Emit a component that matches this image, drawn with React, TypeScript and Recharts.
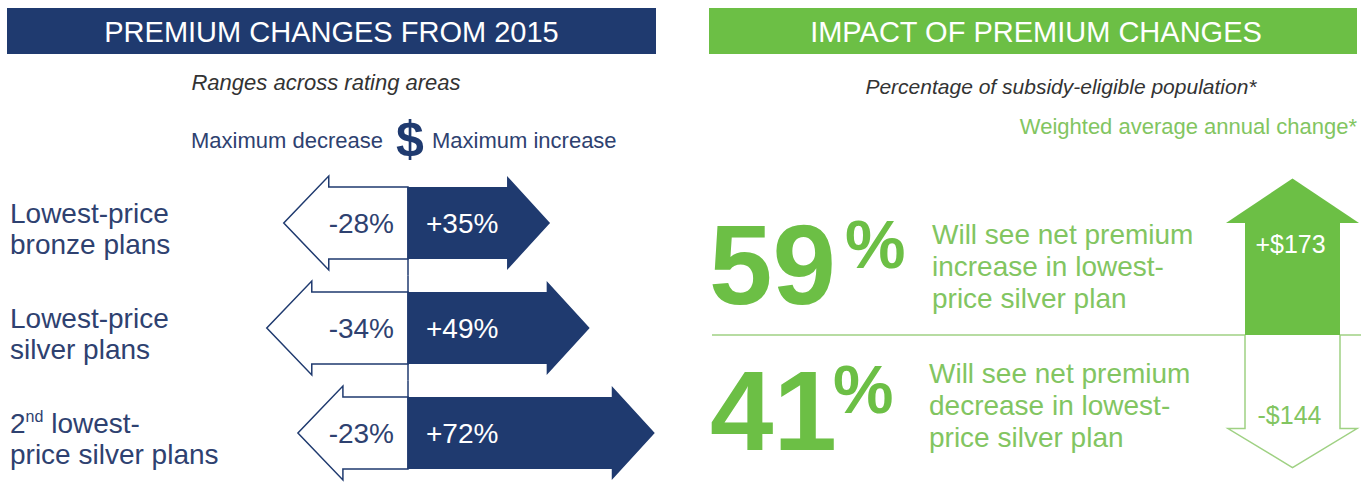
import React from "react";
import { BarChart, Bar, XAxis, YAxis } from "recharts";

// ---------- data ----------
const planNames = ["Lowest-price bronze plans", "Lowest-price silver plans", "2nd lowest-price silver plans"];
const planLines = [
  ["Lowest-price", "bronze plans"],
  ["Lowest-price", "silver plans"],
  ["2nd lowest-", "price silver plans"],
];
const maxDecrease = [-28, -34, -23];
const maxIncrease = [35, 49, 72];

const sharePercent = [59, 41];
const shareLines = [
  ["Will see net premium", "increase in lowest-", "price silver plan"],
  ["Will see net premium", "decrease in lowest-", "price silver plan"],
];
const annualChange = [173, -144];

// ---------- style ----------
const FONT = "'Liberation Sans', Arial, Helvetica, sans-serif";
const NAVY = "#1f3a6f";
const NAVY_TEXT = "#2e4170";
const GREEN = "#6cbf45";
const GREEN_TEXT = "#82c561";
const GREEN_LINE = "#9fd183";

// left chart layout
const L_W = 700;
const L_TOP = 170;
const L_H = 315;
const L_AXIS_W = 250;
const CENTER = 408;
const PX = 2.83;
const ROW_GAP = 33;

// right chart layout
const R_LEFT = 1207.5;
const R_TOP = 100;
const R_W = 168;
const R_H = 383;
const ZERO_Y = 335;
const PXD = 0.65;

const leftData = planNames.map((name, i) => ({ name, dec: maxDecrease[i], inc: maxIncrease[i] }));
const rightData = [{ name: "change", up: annualChange[0], down: annualChange[1] }];

const norm = (p: any) => {
  const left = Math.min(p.x, p.x + p.width);
  const right = Math.max(p.x, p.x + p.width);
  const top = Math.min(p.y, p.y + p.height);
  const bot = Math.max(p.y, p.y + p.height);
  return { left, right, top, bot, cx: (left + right) / 2, cy: (top + bot) / 2 };
};

const IncShape = (p: any) => {
  const { left, right, top, bot, cy } = norm(p);
  const pts = [
    [left, top], [right, top], [right, top - 11], [right + 43, cy],
    [right, bot + 11], [right, bot], [left, bot],
  ].map((q) => q.join(",")).join(" ");
  return (
    <g>
      <polygon points={pts} fill={NAVY} />
      <text x={left + 18} y={cy + 10} fill="#ffffff" fontSize={28} fontFamily={FONT}>
        {"+" + p.payload.inc + "%"}
      </text>
    </g>
  );
};

const DecShape = (p: any) => {
  const { left, right, top, bot, cy } = norm(p);
  const pts = [
    [right, top], [left, top], [left, top - 11], [left - 45, cy],
    [left, bot + 11], [left, bot], [right, bot],
  ].map((q) => q.join(",")).join(" ");
  const last = planNames.length - 1;
  const y1 = p.index > 0 ? top - ROW_GAP / 2 : top;
  const y2 = p.index < last ? bot + ROW_GAP / 2 : bot;
  return (
    <g>
      <polygon points={pts} fill="#ffffff" stroke={NAVY} strokeWidth={1.5} />
      <line x1={right} x2={right} y1={y1} y2={y2} stroke={NAVY} strokeWidth={1.5} />
      <text x={right - 14} y={cy + 10} textAnchor="end" fill={NAVY_TEXT} fontSize={28} fontFamily={FONT}>
        {p.payload.dec + "%"}
      </text>
    </g>
  );
};

const PlanTick = (p: any) => {
  let idx = planNames.indexOf(p.payload && p.payload.value);
  if (idx < 0 && typeof p.index === "number") idx = p.index;
  const lines = planLines[idx] || [];
  const y = p.y;
  const first = lines[0] || "";
  const sup = first.startsWith("2nd");
  return (
    <g>
      <text x={10} y={y} fill={NAVY_TEXT} fontSize={28} fontFamily={FONT}>
        {sup ? (
          <>
            <tspan>2</tspan>
            <tspan fontSize={16} dy={-11}>nd</tspan>
            <tspan dy={11}>{first.slice(3)}</tspan>
          </>
        ) : (
          first
        )}
      </text>
      <text x={10} y={y + 31} fill={NAVY_TEXT} fontSize={28} fontFamily={FONT}>
        {lines[1]}
      </text>
    </g>
  );
};

const fmtMoney = (v: number) => (v > 0 ? "+" : "-") + "$" + Math.abs(v);

const UpShape = (p: any) => {
  const { left, right, top, bot, cx } = norm(p);
  return (
    <g>
      <rect x={left} y={top} width={right - left} height={bot - top} fill={GREEN} />
      <polygon
        points={`${left - 19},${top + 0.5} ${cx},${top - 44} ${right + 19},${top + 0.5}`}
        fill={GREEN}
      />
      <text x={cx - 2} y={top + 30} textAnchor="middle" fill="#ffffff" fontSize={25} fontFamily={FONT}>
        {fmtMoney(p.payload.up)}
      </text>
    </g>
  );
};

const DownShape = (p: any) => {
  const { left, right, top, bot, cx } = norm(p);
  const pts = [
    [left, top], [left, bot], [left - 17, bot], [cx, bot + 39],
    [right + 17, bot], [right, bot], [right, top],
  ].map((q) => q.join(",")).join(" ");
  return (
    <g>
      <polygon points={pts} fill="#ffffff" stroke="none" />
      <polyline points={pts} fill="none" stroke={GREEN_LINE} strokeWidth={1.5} />
      <text x={cx - 3} y={bot - 5} textAnchor="middle" fill={GREEN_TEXT} fontSize={25} fontFamily={FONT}>
        {fmtMoney(p.payload.down)}
      </text>
    </g>
  );
};

// positions for the big share figures (layout only)
const shareLayout = [
  { numX: 709, numY: 304, pctX: 845, pctY: 268, textX: 932, textY: 244 },
  { numX: 710, numY: 450, pctX: 833, pctY: 413, textX: 929, textY: 383 },
];

export default function App() {
  return (
    <div
      style={{
        position: "absolute",
        left: 0,
        top: 0,
        width: 1368,
        height: 483,
        overflow: "hidden",
        background: "#ffffff",
        fontFamily: FONT,
      }}
    >
      <svg width={1368} height={483} style={{ position: "absolute", left: 0, top: 0 }}>
        {/* left header */}
        <rect x={7} y={8} width={649} height={46} fill={NAVY} />
        <text x={331.5} y={41.5} textAnchor="middle" fill="#ffffff" fontSize={29} fontFamily={FONT}>
          PREMIUM CHANGES FROM 2015
        </text>
        <text x={326} y={90} textAnchor="middle" fill="#333333" fontSize={22} fontStyle="italic" fontFamily={FONT}>
          Ranges across rating areas
        </text>
        <text x={383} y={148} textAnchor="end" fill={NAVY_TEXT} fontSize={22} fontFamily={FONT}>
          Maximum decrease
        </text>
        <text x={410} y={156} textAnchor="middle" fill={NAVY} fontSize={50} fontWeight="bold" fontFamily={FONT}>
          $
        </text>
        <text x={432} y={148} fill={NAVY_TEXT} fontSize={22} fontFamily={FONT}>
          Maximum increase
        </text>

        {/* right header */}
        <rect x={709} y={8} width={648} height={46} fill={GREEN} />
        <text x={1036} y={41.5} textAnchor="middle" fill="#ffffff" fontSize={29} fontFamily={FONT}>
          IMPACT OF PREMIUM CHANGES
        </text>
        <text x={1061} y={94} textAnchor="middle" fill="#333333" fontSize={21} fontStyle="italic" fontFamily={FONT}>
          Percentage of subsidy-eligible population*
        </text>
        <text x={1357} y={134} textAnchor="end" fill={GREEN_TEXT} fontSize={22} fontFamily={FONT}>
          Weighted average annual change*
        </text>

        {/* divider */}
        <line x1={712} x2={1361} y1={ZERO_Y} y2={ZERO_Y} stroke={GREEN_LINE} strokeWidth={1.5} />

        {sharePercent.map((v, i) => {
          const L = shareLayout[i];
          return (
            <g key={i}>
              <text x={L.numX} y={L.numY} fill={GREEN} fontSize={114} fontWeight="bold" fontFamily={FONT}>
                {v}
              </text>
              <text x={L.pctX} y={L.pctY} fill={GREEN} fontSize={68} fontWeight="bold" fontFamily={FONT}>
                %
              </text>
              {shareLines[i].map((t, j) => (
                <text key={j} x={L.textX} y={L.textY + j * 32} fill={GREEN_TEXT} fontSize={28} fontFamily={FONT}>
                  {t}
                </text>
              ))}
            </g>
          );
        })}
      </svg>

      <div style={{ position: "absolute", left: 0, top: L_TOP }}>
        <BarChart
          width={L_W}
          height={L_H}
          data={leftData}
          layout="vertical"
          stackOffset="sign"
          barSize={72}
          margin={{ top: 0, right: 0, bottom: 0, left: 0 }}
        >
          <XAxis
            type="number"
            domain={[-(CENTER - L_AXIS_W) / PX, (L_W - CENTER) / PX]}
            allowDataOverflow
            hide
          />
          <YAxis
            type="category"
            dataKey="name"
            width={L_AXIS_W}
            axisLine={false}
            tickLine={false}
            interval={0}
            tick={(p: any) => <PlanTick {...p} />}
          />
          <Bar dataKey="dec" stackId="s" shape={(p: any) => <DecShape {...p} />} isAnimationActive={false} />
          <Bar dataKey="inc" stackId="s" shape={(p: any) => <IncShape {...p} />} isAnimationActive={false} />
        </BarChart>
      </div>

      <div style={{ position: "absolute", left: R_LEFT, top: R_TOP }}>
        <BarChart
          width={R_W}
          height={R_H}
          data={rightData}
          stackOffset="sign"
          barSize={95}
          margin={{ top: 0, right: 0, bottom: 0, left: 0 }}
        >
          <XAxis type="category" dataKey="name" hide />
          <YAxis
            type="number"
            domain={[-(R_TOP + R_H - ZERO_Y) / PXD, (ZERO_Y - R_TOP) / PXD]}
            allowDataOverflow
            hide
          />
          <Bar dataKey="up" stackId="r" shape={(p: any) => <UpShape {...p} />} isAnimationActive={false} />
          <Bar dataKey="down" stackId="r" shape={(p: any) => <DownShape {...p} />} isAnimationActive={false} />
        </BarChart>
      </div>
    </div>
  );
}
